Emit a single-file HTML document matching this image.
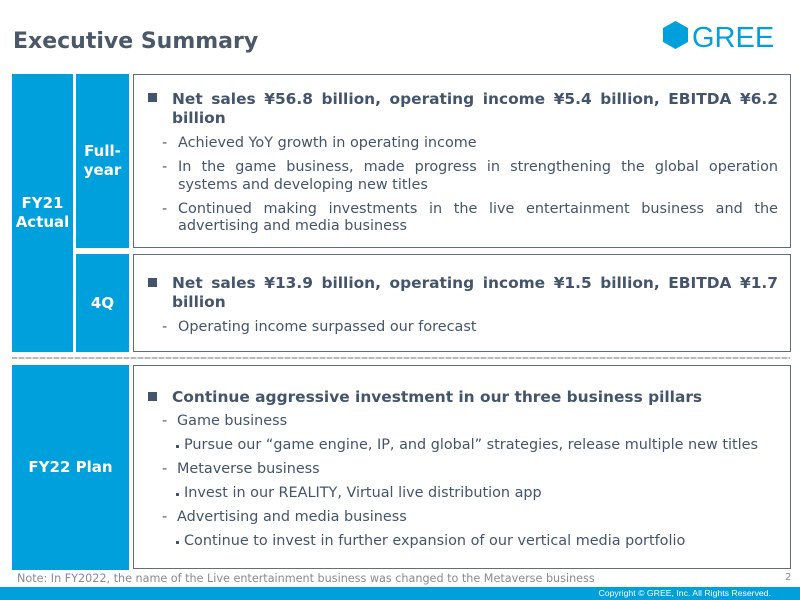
<!DOCTYPE html>
<html><head><meta charset="utf-8"><style>
*{margin:0;padding:0;box-sizing:border-box}
body{width:800px;height:600px;background:#fff;position:relative;overflow:hidden;font-family:"DejaVu Sans","Liberation Sans","Noto Sans CJK JP",sans-serif;color:#44546a}
.a{position:absolute}
.blue{position:absolute;background:#00a0dc;color:#fff;font-weight:bold;font-size:15px;text-align:center;display:flex;align-items:center;justify-content:center;line-height:19px}
.box{position:absolute;border:1.5px solid #5f6d7c;background:#fff}
.l{position:absolute;height:20px;line-height:20px;font-size:14.4px;white-space:nowrap}
.b{font-weight:bold;font-size:15.4px}
.j{white-space:normal;text-align:justify;text-align-last:justify}
.sq{position:absolute;width:9px;height:9px;background:#44546a}
.dash{position:absolute;font-size:14.4px;line-height:20px;height:20px}
.dot{position:absolute;width:3px;height:3px;background:#44546a}
</style></head><body>
<div class="a" style="left:13px;top:28px;font-size:22px;font-weight:bold;color:#4a5868;line-height:28px;white-space:nowrap">Executive Summary</div>
<svg class="a" style="left:0;top:0" width="800" height="60">
<polygon points="675.5,21 688,28 688,42 675.5,49 663,42 663,28" fill="#00a0dc"/>
<text x="692" y="47" font-family="Liberation Sans, sans-serif" font-size="29" fill="#00a0dc">GREE</text>
</svg>

<div class="blue" style="left:12px;top:74px;width:61px;height:278px">FY21<br>Actual</div>
<div class="blue" style="left:76px;top:74px;width:53px;height:174px">Full-<br>year</div>
<div class="blue" style="left:76px;top:254px;width:53px;height:98px">4Q</div>
<div class="blue" style="left:12px;top:365px;width:117px;height:205px">FY22 Plan</div>

<div class="box" style="left:133px;top:74px;width:658px;height:174px"></div>
<div class="box" style="left:133px;top:254px;width:658px;height:98px"></div>
<div class="box" style="left:133px;top:365px;width:658px;height:204px"></div>

<div class="a" style="left:12px;top:357px;width:778px;height:2px;background:repeating-linear-gradient(90deg,#b9b9b9 0 5px,#e0e0e0 5px 7px)"></div>

<!-- Box 1 -->
<div class="sq" style="left:148px;top:93px"></div>
<div class="l b j" style="left:172px;top:89px;width:606px">Net sales ¥56.8 billion, operating income ¥5.4 billion, EBITDA ¥6.2</div>
<div class="l b" style="left:172px;top:108px">billion</div>
<div class="dash" style="left:162px;top:133px">-</div>
<div class="l" style="left:178px;top:133px">Achieved YoY growth in operating income</div>
<div class="dash" style="left:162px;top:157px">-</div>
<div class="l j" style="left:178px;top:157px;width:600px">In the game business, made progress in strengthening the global operation</div>
<div class="l" style="left:178px;top:175px">systems and developing new titles</div>
<div class="dash" style="left:162px;top:199px">-</div>
<div class="l j" style="left:178px;top:199px;width:600px">Continued making investments in the live entertainment business and the</div>
<div class="l" style="left:178px;top:216px">advertising and media business</div>

<!-- Box 2 -->
<div class="sq" style="left:148px;top:278px"></div>
<div class="l b j" style="left:172px;top:273px;width:606px">Net sales ¥13.9 billion, operating income ¥1.5 billion, EBITDA ¥1.7</div>
<div class="l b" style="left:172px;top:292px">billion</div>
<div class="dash" style="left:162px;top:317px">-</div>
<div class="l" style="left:178px;top:317px">Operating income surpassed our forecast</div>

<!-- Box 3 -->
<div class="sq" style="left:148px;top:392px"></div>
<div class="l b" style="left:172px;top:387px">Continue aggressive investment in our three business pillars</div>
<div class="dash" style="left:162px;top:411px">-</div>
<div class="l" style="left:177px;top:411px">Game business</div>
<div class="dot" style="left:176px;top:445px"></div>
<div class="l" style="left:184px;top:435px">Pursue our “game engine, IP, and global” strategies, release multiple new titles</div>
<div class="dash" style="left:162px;top:459px">-</div>
<div class="l" style="left:177px;top:459px">Metaverse business</div>
<div class="dot" style="left:176px;top:493px"></div>
<div class="l" style="left:184px;top:483px">Invest in our REALITY, Virtual live distribution app</div>
<div class="dash" style="left:162px;top:507px">-</div>
<div class="l" style="left:177px;top:507px">Advertising and media business</div>
<div class="dot" style="left:176px;top:541px"></div>
<div class="l" style="left:184px;top:531px">Continue to invest in further expansion of our vertical media portfolio</div>

<div class="a" style="left:17px;top:571px;font-size:11.2px;line-height:16px;color:#8a8a8a;white-space:nowrap">Note: In FY2022, the name of the Live entertainment business was changed to the Metaverse business</div>
<div class="a" style="left:785px;top:571px;font-size:10px;line-height:14px;color:#8a8a8a">2</div>

<div class="a" style="left:0;top:587px;width:800px;height:13px;background:#00a0dc"></div>
<div class="a" style="right:29px;top:587px;font-family:'Liberation Sans',sans-serif;font-size:8.7px;line-height:13px;color:#fff;white-space:nowrap">Copyright © GREE, Inc. All Rights Reserved.</div>
</body></html>
